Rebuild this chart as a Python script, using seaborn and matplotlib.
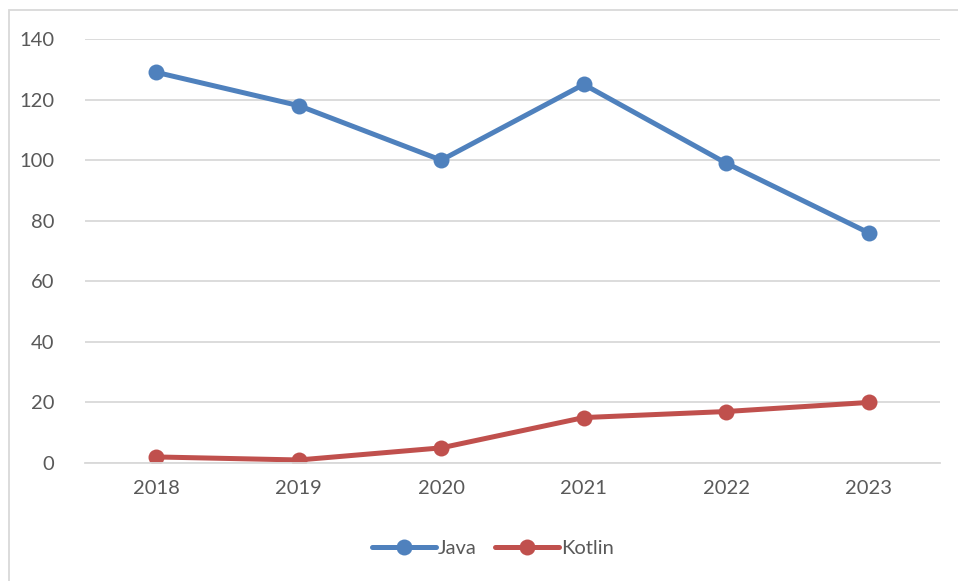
import matplotlib
matplotlib.use("Agg")
import matplotlib.pyplot as plt
import seaborn as sns
import pandas as pd
from matplotlib.patches import Rectangle

years = ["2018", "2019", "2020", "2021", "2022", "2023"]
java = [129, 118, 100, 125, 99, 76]
kotlin = [2, 1, 5, 15, 17, 20]
series_names = ["Java", "Kotlin"]
colors = ["#4F81BD", "#C0504D"]
yticks = [0, 20, 40, 60, 80, 100, 120, 140]

df = pd.DataFrame({
    "year": years * 2,
    "value": java + kotlin,
    "series": [series_names[0]] * len(years) + [series_names[1]] * len(years),
})

sns.set_theme(style="white")
plt.rcParams["font.family"] = ["Lato", "DejaVu Sans"]

fig = plt.figure(figsize=(9.58, 5.81), dpi=100)
ax = fig.add_axes([85 / 958, 1 - 463 / 581, (940 - 85) / 958, (463 - 39) / 581])

sns.lineplot(data=df, x="year", y="value", hue="series", palette=colors,
             marker="o", markersize=11.5, linewidth=3.6, markeredgewidth=0,
             sort=False, ax=ax)

ax.set_xlim(-0.5, len(years) - 0.5)
ax.set_ylim(0, 140)
ax.set_yticks(yticks)
ax.set_yticklabels([str(v) for v in yticks])
ax.grid(axis="y", color="#D9D9D9", linewidth=1.3)
ax.set_axisbelow(True)
for s in ["top", "right", "left"]:
    ax.spines[s].set_visible(False)
ax.spines["bottom"].set_color("#D9D9D9")
ax.spines["bottom"].set_linewidth(1.3)
ax.tick_params(axis="both", length=0, labelsize=14.5, labelcolor="#595959")
ax.tick_params(axis="y", pad=22)
ax.tick_params(axis="x", pad=12)
ax.set_xlabel("")
ax.set_ylabel("")

leg = ax.legend(loc="center", bbox_to_anchor=(493 / 958, 1 - 548 / 581),
                bbox_transform=fig.transFigure, ncol=2, frameon=False,
                fontsize=14.5, handlelength=3.2, handletextpad=0.1,
                columnspacing=0.9)
for t in leg.get_texts():
    t.set_color("#595959")

fig.patches.append(Rectangle((9 / 958, -0.05), 1.1, 1 - 10 / 581 + 0.05,
                             transform=fig.transFigure, fill=False,
                             edgecolor="#D9D9D9", linewidth=1.3))

fig.savefig("out.png", dpi=100, facecolor="white")
